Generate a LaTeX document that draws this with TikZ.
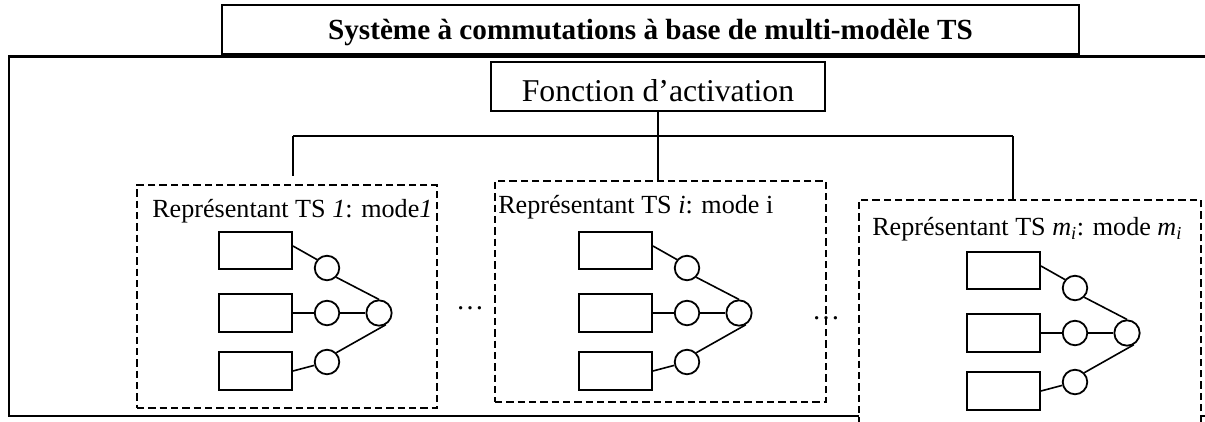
\documentclass[tikz,border=0pt]{standalone}
\usepackage{fontspec}
\setmainfont{Liberation Serif}
\usetikzlibrary{fit}
\tikzset{
  outerbox/.style={draw, line width=1.6pt, inner sep=0pt},
  titlebox/.style={draw, line width=1.8pt, fill=white, inner sep=0pt},
  funcbox/.style={draw, line width=1.2pt, fill=white, inner sep=0pt},
  dbox/.style={draw, dash pattern=on 5.5pt off 3pt, line width=1.05pt, fill=white, inner sep=0pt},
  blk/.style={draw, line width=1.35pt, minimum width=54.75pt, minimum height=28pt, inner sep=0pt},
  sc/.style={draw, circle, line width=1.35pt, minimum size=18.4pt, inner sep=0pt},
  bc/.style={draw, circle, line width=1.35pt, minimum size=19pt, inner sep=0pt},
  wire/.style={line width=1.2pt},
  txt/.style={inner sep=0pt, font=\fontsize{19.6}{23}\selectfont},
  tsmod/.pic={
    \node[blk] (-r1) at (36.5,18.5) {};
    \node[blk] (-r2) at (36.5,81) {};
    \node[blk] (-r3) at (36.5,139) {};
    \node[sc] (-c1) at (108,36) {};
    \node[sc] (-c2) at (108,81) {};
    \node[sc] (-c3) at (108,130) {};
    \node[bc] (-s) at (160,81) {};
    \draw[wire] ([yshift=3.4pt]-r1.east) -- (-c1.140);
    \draw[wire] (-r2) -- (-c2);
    \draw[wire] (-c2) -- (-s);
    \draw[wire] (-c1.-45) -- (-s.north);
    \draw[wire] (-r3.east) -- (-c3);
    \draw[wire] (-c3.45) -- (-s.-60);
  }
}
\begin{document}
\begin{tikzpicture}[x=0.75pt,y=-0.75pt]
\useasboundingbox (0,0) rectangle (1205,421);
% outer system box (right side beyond the page)
\node[outerbox, fit={(9,56.5) (1220,416)}] (sys) {};
% title
\node[titlebox, fit={(222,5) (1079,54)}] (tbox) {};
\node[inner sep=0pt, anchor=base, font=\bfseries\fontsize{21.9}{26}\selectfont] (ttl) at (650.5,39) {Système à commutations à base de multi-modèle TS};
% activation function
\node[funcbox, fit={(491,62) (825,111)}] (fa) {};
\node[inner sep=0pt, anchor=base, font=\fontsize{23.8}{28}\selectfont] (fat) at (658,101.5) {Fonction d’activation};
% dashed mode boxes
\node[dbox, fit={(137,185) (437,408)}] (b1) {};
\node[dbox, fit={(495,181) (826,402)}] (b2) {};
\node[dbox, fit={(859,200) (1201,432)}] (b3) {};
% bus
\coordinate (j1) at (293,136);
\coordinate (j3) at (1013,136);
\coordinate (e1) at (293,176);
\draw[wire] (j1) -- (j3);
\draw[wire] (j1) -- (e1);
\draw[wire] (j3) -- (j3 |- b3.north);
\draw[wire] (fa.south) -- (fa.south |- b2.north);
% labels
\node[txt, anchor=base west] (l1) at (152,217) {Représentant TS \textit{1}: mode\textit{1}};
\node[txt, anchor=base west] (l2) at (498,213) {Représentant TS \textit{i}: mode i};
\node[txt, anchor=base west] (l3) at (872,235) {Représentant TS \textit{m}\textsubscript{\textit{i}}: mode \textit{m}\textsubscript{\textit{i}}};
% modules
\pic (m1) at (219,232) {tsmod};
\pic (m2) at (579,232) {tsmod};
\pic (m3) at (967,252) {tsmod};
% ellipses
\node[txt, anchor=base, font=\fontsize{21}{24}\selectfont] (d1) at (470,309) {…};
\node[txt, anchor=base, font=\fontsize{21}{24}\selectfont] (d2) at (826,319) {…};
\end{tikzpicture}
\end{document}
